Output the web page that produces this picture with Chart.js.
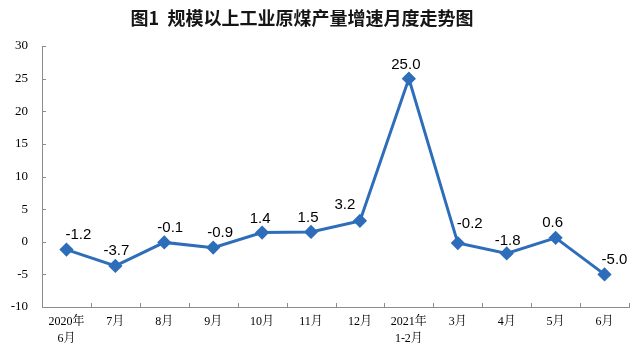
<!DOCTYPE html>
<html><head><meta charset="utf-8">
<script src="https://cdn.jsdelivr.net/npm/chart.js@4/dist/chart.umd.min.js"></script>
<style>html,body{margin:0;padding:0;background:#fff;}#wrap{width:642px;height:357px;}</style>
</head><body><div id="wrap"><canvas id="c" width="642" height="357"></canvas></div>
<script>
const titleText = '图1  规模以上工业原煤产量增速月度走势图';
const categories = [['2020年','6月'],'7月','8月','9月','10月','11月','12月',['2021年','1-2月'],'3月','4月','5月','6月'];
const growth = [-1.2, -3.7, -0.1, -0.9, 1.4, 1.5, 3.2, 25.0, -0.2, -1.8, 0.6, -5.0];
const yMin = -10, yMax = 30, yStep = 5;

const lineColor = '#2E6DB9';
const axisColor = '#8C8C8C';

// label placement nudges (style only, pixels)
const labelNudge = {
  dx: [12, 1, 6, 7, -2, -3, -15, -3, 12, 1, -3, 10],
  up: [15, 15, 15, 15, 14, 14, 16, 14, 19, 13, 15, 15]
};

const labelPlugin = {
  id: 'pointLabels',
  beforeDraw(chart) {
    const ctx = chart.ctx;
    ctx.save();
    ctx.font = 'bold 18px "Noto Sans CJK SC", sans-serif';
    ctx.fillStyle = '#151515';
    ctx.textAlign = 'center';
    ctx.textBaseline = 'middle';
    ctx.fillText(titleText, 302, 18);
    ctx.restore();
  },
  afterDatasetsDraw(chart) {
    const ctx = chart.ctx;
    const meta = chart.getDatasetMeta(0);
    ctx.save();
    ctx.font = '15px "Liberation Sans", Arial, sans-serif';
    ctx.fillStyle = '#000';
    ctx.textAlign = 'center';
    ctx.textBaseline = 'middle';
    meta.data.forEach((pt, i) => {
      ctx.fillText(growth[i].toFixed(1), pt.x + labelNudge.dx[i], pt.y - labelNudge.up[i]);
    });
    ctx.restore();
  },
  afterDraw(chart) {
    const ctx = chart.ctx;
    const ys = chart.scales.y;
    const area = chart.chartArea;
    ctx.save();
    ctx.strokeStyle = axisColor;
    ctx.lineWidth = 1;
    ctx.beginPath();
    ys.ticks.forEach((t, i) => {
      const y = Math.round(ys.getPixelForTick(i)) + 0.5;
      ctx.moveTo(area.left, y); ctx.lineTo(area.left + 4, y);
    });
    const n = categories.length;
    for (let i = 0; i <= n; i++) {
      const x = Math.round(area.left + (area.right - area.left) * i / n) + 0.5;
      ctx.moveTo(x, area.bottom); ctx.lineTo(x, area.bottom - 4);
    }
    ctx.stroke();
    ctx.restore();
  }
};

new Chart(document.getElementById('c'), {
  type: 'line',
  data: {
    labels: categories,
    datasets: [{
      data: growth,
      borderColor: lineColor,
      backgroundColor: lineColor,
      borderWidth: 3,
      pointStyle: 'rectRot',
      pointRadius: 5,
      pointHoverRadius: 5,
      tension: 0,
      fill: false
    }]
  },
  options: {
    responsive: false,
    animation: false,
    layout: { padding: { top: 46, right: 13, left: 0, bottom: 0 } },
    plugins: {
      legend: { display: false },
      tooltip: { enabled: false },
      title: { display: false }
    },
    scales: {
      x: {
        offset: true,
        grid: { display: false, drawTicks: false },
        border: { display: true, color: axisColor, width: 1 },
        ticks: {
          color: '#000',
          padding: 6,
          maxRotation: 0,
          autoSkip: false,
          font: { family: '"Liberation Serif", "Noto Serif CJK SC", "Noto Sans CJK SC", serif', size: 12, lineHeight: 1.45 }
        },
        afterFit(s) { s.height = 50; }
      },
      y: {
        min: yMin, max: yMax,
        grid: { display: false, drawTicks: false },
        border: { display: true, color: axisColor, width: 1 },
        ticks: {
          stepSize: yStep,
          color: '#000',
          padding: 14,
          font: { family: '"Liberation Serif", "Times New Roman", serif', size: 13 }
        },
        afterFit(s) { s.width = 42; }
      }
    }
  },
  plugins: [labelPlugin]
});
</script></body></html>
